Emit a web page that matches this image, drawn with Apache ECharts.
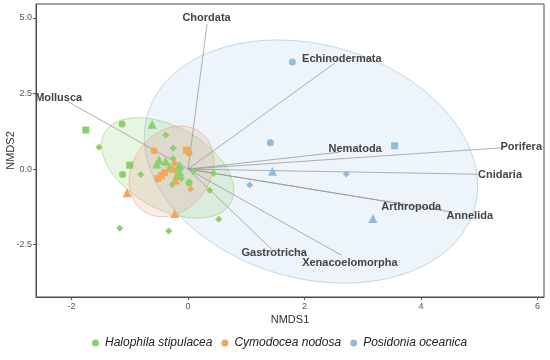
<!DOCTYPE html>
<html><head><meta charset="utf-8">
<script src="https://cdn.jsdelivr.net/npm/echarts@6/dist/echarts.min.js"></script>
<style>html,body{margin:0;padding:0;background:#fff}#c{width:550px;height:360px}</style>
</head><body><div id="c"></div>
<script>
// ---- data ----
const groups = ['Halophila stipulacea', 'Cymodocea nodosa', 'Posidonia oceanica'];
const shapeNames = ['circle', 'triangle', 'rect', 'diamond'];

const halophilaX = [-1.755,-1.132,-0.617,-1.527,-0.383,-1.0,-1.125,-0.811,-0.257,-0.257,-0.497,-0.537,-0.383,-0.314,-0.142,-0.113,0.017,-0.268,0.086,0.441,0.372,0.527,-1.172,-0.331,-0.194,-0.172,-0.142];
const halophilaY = [1.29,1.49,1.48,0.72,1.13,0.13,-0.18,-0.18,0.69,0.35,0.30,0.17,0.26,0.07,0.13,-0.31,-0.45,-0.51,-0.07,-0.14,-0.70,-1.66,-1.96,-2.05,-0.20,0.08,-0.09];
const halophilaShape = [2,0,1,3,3,2,0,3,3,3,1,1,1,1,1,3,0,3,3,3,3,3,3,3,1,1,1];

const cymodoceaX = [-0.583,-0.027,0.017,-0.228,-0.257,-0.40,-0.456,-0.515,-0.211,0.041,-1.046,-0.228];
const cymodoceaY = [0.61,0.63,0.54,0.19,0.02,-0.12,-0.22,-0.31,-0.36,-0.66,-0.78,-1.47];
const cymodoceaShape = [0,2,0,3,1,2,2,2,1,3,1,1];

const posidoniaX = [1.79,1.413,3.545,1.448,2.717,1.058,3.173];
const posidoniaY = [3.54,0.87,0.77,-0.07,-0.16,-0.53,-1.63];
const posidoniaShape = [0,0,2,1,3,3,1];

// envfit vectors (arrow tips) and their label positions
const phyla = ['Chordata','Echinodermata','Mollusca','Nematoda','Porifera','Cnidaria','Arthropoda','Annelida','Gastrotricha','Xenacoelomorpha'];
const vecX = [0.326,2.516,-2.098,2.60,5.432,4.969,3.717,4.489,1.436,2.636];
const vecY = [4.80,3.50,2.27,0.56,0.71,-0.17,-1.17,-1.41,-2.65,-2.85];
const labX = [0.317,2.64,-2.221,2.868,5.719,5.355,3.832,4.837,1.479,2.777];
const labY = [4.99,3.64,2.34,0.65,0.74,-0.20,-1.25,-1.55,-2.76,-3.12];

// 95% ellipses: centre, half extents, correlation
const ellCX = [-0.35,-0.285,2.11];
const ellCY = [0.04,-0.075,0.25];
const ellRX = [1.135,0.726,2.86];
const ellRY = [1.66,1.50,4.02];
const ellR  = [-0.45,0.22,-0.2];

const xTicks = [-2,0,2,4,6];
const yTicks = [-2.5,0,2.5,5];

// ---- styles ----
const pointColors = ['#8dcf6c','#f2a85c','#8ebde0'];
const ellFill = ['rgba(140,207,108,0.2)','rgba(240,130,120,0.17)','rgba(143,188,223,0.16)'];
const ellStroke = ['rgba(140,207,108,0.55)','rgba(240,160,110,0.6)','rgba(143,188,223,0.55)'];

const chart = echarts.init(document.getElementById('c'));
const FONT = 'Liberation Sans, Arial, sans-serif';

function pts(xs, ys, sh) { return xs.map((x, i) => [x, ys[i], sh[i]]); }

function ellipseSeries(i) {
  return {
    type: 'custom', coordinateSystem: 'cartesian2d', silent: true, z: 1,
    clip: true,
    data: [[ellCX[i], ellCY[i]]],
    renderItem: function (params, api) {
      const out = [];
      const s = Math.sqrt(1 - ellR[i] * ellR[i]);
      for (let k = 0; k < 160; k++) {
        const t = k / 160 * 2 * Math.PI;
        out.push(api.coord([ellCX[i] + ellRX[i] * Math.cos(t),
          ellCY[i] + ellRY[i] * (ellR[i] * Math.cos(t) + s * Math.sin(t))]));
      }
      return { type: 'polygon', shape: { points: out }, style: { fill: ellFill[i], stroke: ellStroke[i], lineWidth: 1 } };
    }
  };
}

function scatterSeries(i, data) {
  return {
    name: groups[i], type: 'scatter', z: 5, data: data,
    symbol: v => shapeNames[v[2]],
    symbolSize: v => v[2] === 1 ? 9 : 7,
    itemStyle: { color: pointColors[i], opacity: 1 },
    emphasis: { disabled: true }
  };
}

const option = {
  animation: false,
  backgroundColor: '#fff',
  grid: { left: 36, right: 6, top: 4, bottom: 63, outerBoundsMode: 'none', containLabel: false, show: true, borderColor: '#4a4a4a', borderWidth: 1, backgroundColor: '#fff' },
  xAxis: {
    type: 'value', min: -2.61, max: 6.11,
    name: 'NMDS1', nameLocation: 'middle', nameGap: 17, nameMoveOverlap: false,
    nameTextStyle: { fontFamily: FONT, fontSize: 11, color: '#333' },
    splitLine: { show: false },
    axisLine: { show: true, onZero: false, lineStyle: { color: '#4a4a4a' } },
    axisTick: { show: true, length: 3, lineStyle: { color: '#555' }, customValues: xTicks },
    axisLabel: { customValues: xTicks, fontFamily: FONT, fontSize: 9, color: '#555', margin: 5 }
  },
  yAxis: {
    type: 'value', min: -4.23, max: 5.46,
    name: 'NMDS2', nameLocation: 'middle', nameGap: 20, nameRotate: 90, nameMoveOverlap: false,
    nameTextStyle: { fontFamily: FONT, fontSize: 11, color: '#333' },
    splitLine: { show: false },
    axisLine: { show: true, onZero: false, lineStyle: { color: '#4a4a4a' } },
    axisTick: { show: true, length: 3, lineStyle: { color: '#555' }, customValues: yTicks },
    axisLabel: { customValues: yTicks, formatter: v => v.toFixed(1), fontFamily: FONT, fontSize: 9, color: '#555', margin: 4 }
  },
  legend: {
    bottom: 6, left: 87,
    data: groups.map(g => ({ name: g, icon: 'circle' })),
    itemWidth: 7, itemHeight: 7, itemGap: 9,
    textStyle: { fontFamily: FONT, fontStyle: 'italic', fontSize: 12, color: '#222', padding: [0, 0, 0, 1] },
    selectedMode: false
  },
  series: [
    ellipseSeries(2), ellipseSeries(0), ellipseSeries(1),
    {
      type: 'custom', coordinateSystem: 'cartesian2d', silent: true, z: 3,
      data: phyla.map((p, i) => [vecX[i], vecY[i]]),
      renderItem: function (params, api) {
        const a = api.coord([0, 0]);
        const b = api.coord([api.value(0), api.value(1)]);
        return { type: 'line', shape: { x1: a[0], y1: a[1], x2: b[0], y2: b[1] }, style: { stroke: 'rgba(150,150,150,0.75)', lineWidth: 1 } };
      }
    },
    scatterSeries(0, pts(halophilaX, halophilaY, halophilaShape)),
    scatterSeries(1, pts(cymodoceaX, cymodoceaY, cymodoceaShape)),
    scatterSeries(2, pts(posidoniaX, posidoniaY, posidoniaShape)),
    {
      type: 'custom', coordinateSystem: 'cartesian2d', silent: true, z: 6,
      data: phyla.map((p, i) => [labX[i], labY[i], i]),
      renderItem: function (params, api) {
        const c = api.coord([api.value(0), api.value(1)]);
        return { type: 'text', x: c[0], y: c[1], style: { text: phyla[api.value(2)], fill: '#444', font: 'bold 11px ' + FONT, textAlign: 'center', textVerticalAlign: 'middle' } };
      }
    }
  ]
};
chart.setOption(option);
</script></body></html>
